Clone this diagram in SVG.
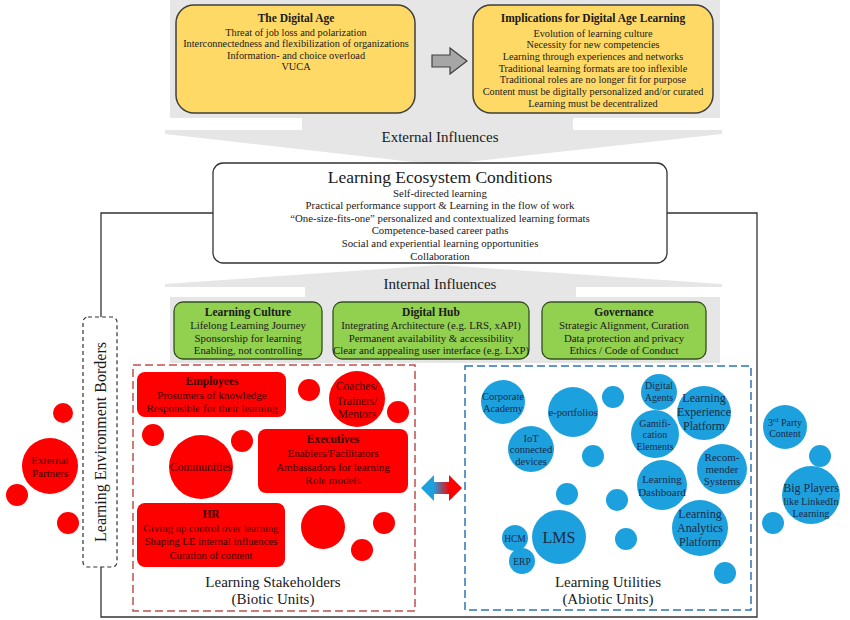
<svg xmlns="http://www.w3.org/2000/svg" width="850" height="620" viewBox="0 0 850 620">
<defs>
<style>
.t{font-family:"Liberation Serif","Times New Roman",serif;fill:#1a1a1a;text-anchor:middle}
.bd{font-weight:bold}
.yb{fill:#FFD966;stroke:#3f3f3f;stroke-width:1.5}
.gb{fill:#92D050;stroke:#34501c;stroke-width:1.3}
.r{fill:#FF0000}
.b{fill:#1DA1DE}
.rt{fill:#3a0000}
.bt{fill:#1b2a48}
.gr{fill:#E6E6E6}
.ln{fill:none;stroke:#333;stroke-width:1.3}
</style>
<linearGradient id="dg" x1="0" x2="1" y1="0" y2="0">
<stop offset="0.3" stop-color="#1DA1DE"/>
<stop offset="0.7" stop-color="#FF0000"/>
</linearGradient>
</defs>
<rect width="850" height="620" fill="#fff"/>
<g id="connectors">
<rect class="gr" x="170" y="0" width="550" height="118"/>
<polygon class="gr" points="302,118 573,118 573,130 722,130 722,134 440,165 165,134 165,130 302,130"/>
<polygon class="gr" points="440,265 722,284 722,287 576,287 576,297 720,297 720,363 170,363 170,297 305,297 305,287 165,287 165,284"/>
<polygon points="432,55 450,55 450,48 467,61 450,74 450,67 432,67" fill="#A6A6A6" stroke="#404040" stroke-width="1.2"/>
<polyline class="ln" points="213,213 101,213 101,317"/>
<polyline class="ln" points="101,567 101,617 757,617 757,213 667,213"/>
<polygon points="421,488 434,475 434,482 449,482 449,475 462,488 449,501 449,494 434,494 434,501" fill="url(#dg)"/>
</g>
<g id="digital-age">
<rect class="yb" x="176" y="5" width="239" height="108" rx="18"/>
<text class="t bd" x="296" y="22" font-size="11.5">The Digital Age</text>
<text class="t" x="296" y="35.5" font-size="10.3">Threat of job loss and polarization</text>
<text class="t" x="296" y="47" font-size="10.3">Interconnectedness and flexibilization of organizations</text>
<text class="t" x="296" y="58.5" font-size="10.3">Information- and choice overload</text>
<text class="t" x="296" y="70" font-size="10.3">VUCA</text>
</g>
<g id="implications">
<rect class="yb" x="473" y="5" width="240" height="108" rx="18"/>
<text class="t bd" x="593" y="22" font-size="11.5">Implications for Digital Age Learning</text>
<text class="t" x="593" y="36.5" font-size="10.3">Evolution of learning culture</text>
<text class="t" x="593" y="48.2" font-size="10.3">Necessity for new competencies</text>
<text class="t" x="593" y="59.8" font-size="10.3">Learning through experiences and networks</text>
<text class="t" x="593" y="71.5" font-size="10.3">Traditional learning formats are too inflexible</text>
<text class="t" x="593" y="83.2" font-size="10.3">Traditional roles are no longer fit for purpose</text>
<text class="t" x="593" y="94.8" font-size="10.3">Content must be digitally personalized and/or curated</text>
<text class="t" x="593" y="106.5" font-size="10.3">Learning must be decentralized</text>
</g>
<g id="external-influences">
<text class="t" x="440" y="142" font-size="15">External Influences</text>
</g>
<g id="conditions">
<rect x="213" y="163" width="454" height="100" rx="10" fill="#fff" stroke="#333" stroke-width="1.3"/>
<text class="t" x="440" y="183" font-size="17.5">Learning Ecosystem Conditions</text>
<text class="t" x="440" y="196.5" font-size="10.8">Self-directed learning</text>
<text class="t" x="440" y="209.1" font-size="10.8">Practical performance support &amp; Learning in the flow of work</text>
<text class="t" x="440" y="221.7" font-size="10.8">“One-size-fits-one” personalized and contextualized learning formats</text>
<text class="t" x="440" y="234.3" font-size="10.8">Competence-based career paths</text>
<text class="t" x="440" y="246.9" font-size="10.8">Social and experiential learning opportunities</text>
<text class="t" x="440" y="259.5" font-size="10.8">Collaboration</text>
</g>
<g id="internal-influences">
<text class="t" x="440" y="289" font-size="15">Internal Influences</text>
</g>
<g id="learning-culture">
<rect class="gb" x="174" y="302" width="148" height="57" rx="9"/>
<text class="t bd" x="248" y="315.5" font-size="11.5">Learning Culture</text>
<text class="t" x="248" y="328.5" font-size="10.8">Lifelong Learning Journey</text>
<text class="t" x="248" y="341.5" font-size="10.8">Sponsorship for learning</text>
<text class="t" x="248" y="354" font-size="10.8">Enabling, not controlling</text>
</g>
<g id="digital-hub">
<rect class="gb" x="333" y="302" width="196" height="57" rx="9"/>
<text class="t bd" x="431" y="315.5" font-size="11.5">Digital Hub</text>
<text class="t" x="431" y="328.5" font-size="10.8">Integrating Architecture (e.g. LRS, xAPI)</text>
<text class="t" x="431" y="341.5" font-size="10.8">Permanent availability &amp; accessibility</text>
<text class="t" x="431" y="354" font-size="10.8">Clear and appealing user interface (e.g. LXP)</text>
</g>
<g id="governance">
<rect class="gb" x="542" y="302" width="164" height="57" rx="9"/>
<text class="t bd" x="624" y="315.5" font-size="11.5">Governance</text>
<text class="t" x="624" y="328.5" font-size="10.8">Strategic Alignment, Curation</text>
<text class="t" x="624" y="341.5" font-size="10.8">Data protection and privacy</text>
<text class="t" x="624" y="354" font-size="10.8">Ethics / Code of Conduct</text>
</g>
<g id="environment-borders">
<rect x="83" y="317" width="34" height="250" rx="5" fill="#fff" stroke="#333" stroke-width="1.2" stroke-dasharray="4,3"/>
<text class="t" transform="translate(105.5,442) rotate(-90)" font-size="16">Learning Environment Borders</text>
</g>
<g id="external-partners">
<circle class="r" cx="63" cy="413" r="10"/>
<circle class="r" cx="50" cy="466" r="28"/>
<circle class="r" cx="17" cy="495" r="11"/>
<circle class="r" cx="68" cy="523" r="11"/>
<text class="t rt" x="50" y="464" font-size="11">External</text>
<text class="t rt" x="50" y="477" font-size="11">Partners</text>
</g>
<g id="stakeholders">
<rect x="133" y="365" width="282" height="246" fill="none" stroke="#C0504D" stroke-width="1.5" stroke-dasharray="8,4"/>
<text class="t" x="273" y="587" font-size="15">Learning Stakeholders</text>
<text class="t" x="273" y="604" font-size="15">(Biotic Units)</text>
</g>
<g id="employees">
<rect class="r" x="137" y="372" width="149" height="45" rx="8"/>
<text class="t rt bd" x="212" y="385" font-size="11.5">Employees</text>
<text class="t rt" x="212" y="398.5" font-size="11">Prosumers of knowledge</text>
<text class="t rt" x="212" y="412" font-size="11">Responsible for their learning</text>
</g>
<g id="coaches">
<circle class="r" cx="357" cy="399" r="28"/>
<text class="t rt" x="357" y="390" font-size="11.5">Coaches/</text>
<text class="t rt" x="357" y="404.5" font-size="11.5">Trainers/</text>
<text class="t rt" x="357" y="418" font-size="11.5">Mentors</text>
</g>
<g id="communities">
<circle class="r" cx="201" cy="467" r="32"/>
<text class="t rt" x="201" y="471" font-size="11.5">Communities</text>
</g>
<g id="executives">
<rect class="r" x="258" y="429" width="150" height="64" rx="8"/>
<text class="t rt bd" x="333" y="443" font-size="11.5">Executives</text>
<text class="t rt" x="333" y="457" font-size="11">Enablers/Facilitators</text>
<text class="t rt" x="333" y="471" font-size="11">Ambassadors for learning</text>
<text class="t rt" x="333" y="484" font-size="11">Role models</text>
</g>
<g id="hr">
<rect class="r" x="137" y="503" width="148" height="64" rx="8"/>
<text class="t rt bd" x="211" y="518" font-size="11.5">HR</text>
<text class="t rt" x="211" y="531.5" font-size="10.7">Giving up control over learning</text>
<text class="t rt" x="211" y="545" font-size="10.7">Shaping LE internal influences</text>
<text class="t rt" x="211" y="558.5" font-size="10.7">Curation of content</text>
</g>
<g id="red-dots">
<circle class="r" cx="309" cy="390" r="11"/>
<circle class="r" cx="398" cy="412" r="11"/>
<circle class="r" cx="153" cy="435" r="11"/>
<circle class="r" cx="242" cy="441" r="11"/>
<circle class="r" cx="323" cy="527" r="22"/>
<circle class="r" cx="384" cy="523" r="11"/>
<circle class="r" cx="362" cy="550" r="11"/>
</g>
<g id="utilities">
<rect x="465" y="366" width="286" height="244" fill="none" stroke="#2E75B6" stroke-width="1.5" stroke-dasharray="8,4"/>
<text class="t" x="608" y="587" font-size="15">Learning Utilities</text>
<text class="t" x="608" y="604" font-size="15">(Abiotic Units)</text>
</g>
<g id="corporate-academy">
<circle class="b" cx="503" cy="402" r="22"/>
<text class="t bt" x="503" y="400" font-size="10.5">Corporate</text>
<text class="t bt" x="503" y="412" font-size="10.5">Academy</text>
</g>
<g id="e-portfolios">
<circle class="b" cx="573" cy="412" r="25"/>
<text class="t bt" x="573" y="416" font-size="10.5">e-portfolios</text>
</g>
<g id="iot">
<circle class="b" cx="531" cy="449" r="23"/>
<text class="t bt" x="531" y="441.5" font-size="10.5">IoT</text>
<text class="t bt" x="531" y="453" font-size="10.5">connected</text>
<text class="t bt" x="531" y="465" font-size="10.5">devices</text>
</g>
<g id="digital-agents">
<circle class="b" cx="659" cy="392" r="18"/>
<text class="t bt" x="659" y="388.5" font-size="10">Digital</text>
<text class="t bt" x="659" y="400.5" font-size="10">Agents</text>
</g>
<g id="lxp">
<circle class="b" cx="704" cy="413" r="27"/>
<text class="t bt" x="704" y="402" font-size="12">Learning</text>
<text class="t bt" x="704" y="416" font-size="12">Experience</text>
<text class="t bt" x="704" y="430" font-size="12">Platform</text>
</g>
<g id="gamification">
<circle class="b" cx="655" cy="434" r="24"/>
<text class="t bt" x="655" y="426.5" font-size="10">Gamifi-</text>
<text class="t bt" x="655" y="438" font-size="10">cation</text>
<text class="t bt" x="655" y="449.5" font-size="10">Elements</text>
</g>
<g id="recommender">
<circle class="b" cx="722" cy="469" r="25"/>
<text class="t bt" x="722" y="461" font-size="11">Recom-</text>
<text class="t bt" x="722" y="473" font-size="11">mender</text>
<text class="t bt" x="722" y="485" font-size="11">Systems</text>
</g>
<g id="dashboard">
<circle class="b" cx="662" cy="485" r="25"/>
<text class="t bt" x="662" y="483" font-size="11">Learning</text>
<text class="t bt" x="662" y="496" font-size="11">Dashboard</text>
</g>
<g id="analytics">
<circle class="b" cx="700" cy="528" r="28"/>
<text class="t bt" x="700" y="518" font-size="12">Learning</text>
<text class="t bt" x="700" y="532" font-size="12">Analytics</text>
<text class="t bt" x="700" y="546" font-size="12">Platform</text>
</g>
<g id="lms">
<circle class="b" cx="559" cy="537" r="27"/>
<text class="t bt" x="559" y="543" font-size="16">LMS</text>
</g>
<g id="hcm">
<circle class="b" cx="515" cy="538" r="13"/>
<text class="t bt" x="515" y="541.5" font-size="9.5">HCM</text>
</g>
<g id="erp">
<circle class="b" cx="522" cy="561" r="13"/>
<text class="t bt" x="522" y="564.5" font-size="9.5">ERP</text>
</g>
<g id="blue-dots">
<circle class="b" cx="613" cy="397" r="11"/>
<circle class="b" cx="593" cy="456" r="11"/>
<circle class="b" cx="567" cy="494" r="11"/>
<circle class="b" cx="617" cy="500" r="11"/>
<circle class="b" cx="626" cy="539" r="11"/>
<circle class="b" cx="725" cy="573" r="11"/>
<circle class="b" cx="820" cy="456" r="11"/>
<circle class="b" cx="773" cy="523" r="11"/>
</g>
<g id="third-party">
<circle class="b" cx="785" cy="427" r="22"/>
<text class="t bt" x="785" y="425.5" font-size="10">3<tspan font-size="6.5" dy="-3.5">rd</tspan><tspan dy="3.5"> Party</tspan></text>
<text class="t bt" x="785" y="437" font-size="10">Content</text>
</g>
<g id="big-players">
<circle class="b" cx="811" cy="495" r="29"/>
<text class="t bt" x="811" y="492" font-size="12">Big Players</text>
<text class="t bt" x="811" y="505" font-size="10.2">like LinkedIn</text>
<text class="t bt" x="811" y="517" font-size="10.2">Learning</text>
</g>
</svg>
